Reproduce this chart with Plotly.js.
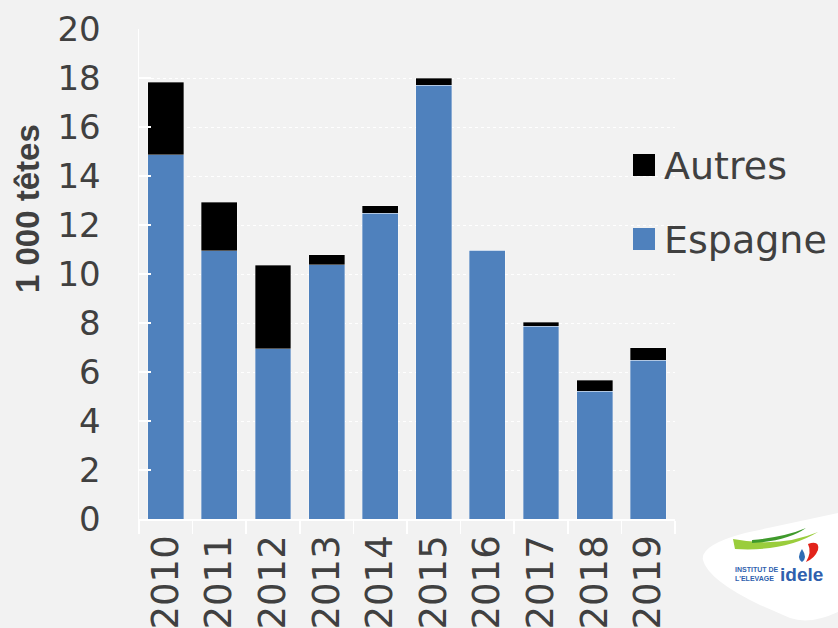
<!DOCTYPE html>
<html>
<head>
<meta charset="utf-8">
<script src="https://cdn.plot.ly/plotly-3.0.1.min.js"></script>
<style>
  html, body { margin: 0; padding: 0; background: #f2f2f2; }
  #chart { width: 838px; height: 628px; }
</style>
</head>
<body>
<div id="chart"></div>
<script>
// données (milliers de têtes)
const years = ['2010', '2011', '2012', '2013', '2014', '2015', '2016', '2017', '2018', '2019'];
const espagne = [14.86, 10.95, 6.94, 10.38, 12.48, 17.71, 10.97, 7.86, 5.21, 6.49];
const autres = [2.96, 1.98, 3.41, 0.40, 0.30, 0.28, 0.00, 0.17, 0.45, 0.49];
const seriesNames = ['Autres', 'Espagne'];
const seriesColors = ['#000000', '#4f81bd'];

// marges du graphe (px)
const W = 838, H = 628;
const M = { l: 139, r: 163, t: 29, b: 109 };
const PW = W - M.l - M.r, PH = H - M.t - M.b;
// pixel -> coordonnées papier
const px = x => (x - M.l) / PW;
const py = y => (H - M.b - y) / PH;

const TXT = '#404040';
const FONT = 'DejaVu Sans, sans-serif';
const barLine = { width: 0.75, color: 'rgba(255,255,255,0.45)' };

const traces = [
    { x: years, y: espagne, name: 'Espagne', type: 'bar', marker: { color: seriesColors[1], line: barLine } },
    { x: years, y: autres, name: 'Autres', type: 'bar', marker: { color: seriesColors[0], line: barLine } }
];

// --- légende faite à la main (carrés plus grands que ceux de Plotly) ---
const shapes = [];
const annotations = [];
seriesNames.forEach((name, i) => {
    const cy = 165 + i * 74;
    shapes.push({
        type: 'rect', xref: 'paper', yref: 'paper',
        x0: px(633), x1: px(655), y0: py(cy + 11), y1: py(cy - 11),
        fillcolor: seriesColors[i], line: { width: 0 }
    });
    annotations.push({
        xref: 'paper', yref: 'paper', x: px(662), y: py(cy + 1),
        xanchor: 'left', yanchor: 'middle', showarrow: false,
        text: name, font: { family: FONT, size: 38, color: TXT }
    });
});

// titre axe Y
annotations.push({
    xref: 'paper', yref: 'paper', x: px(28), y: py(209),
    xanchor: 'center', yanchor: 'middle', showarrow: false, textangle: -90,
    text: '<b>1 000 têtes</b>',
    font: { family: 'Liberation Sans, Arial, sans-serif', size: 33, color: TXT }
});

// --- logo idele (coin bas droit) ---
const p = (x, y) => px(x).toFixed(4) + ',' + py(y).toFixed(4);
shapes.push({
    type: 'path', xref: 'paper', yref: 'paper', layer: 'above',
    path: 'M' + p(838, 513) + ' L' + p(745, 533) + ' Q' + p(700, 545) + ' ' + p(703, 560) +
          ' Q' + p(708, 580) + ' ' + p(760, 605) + ' L' + p(790, 618) + ' Q' + p(810, 625) + ' ' + p(838, 612) + ' Z',
    fillcolor: '#ffffff', line: { width: 0 }
});
// bande verte claire
shapes.push({
    type: 'path', xref: 'paper', yref: 'paper', layer: 'above',
    path: 'M' + p(733, 539) + ' Q' + p(780, 548) + ' ' + p(818, 532) +
          ' Q' + p(785, 552) + ' ' + p(735, 549) + ' Z',
    fillcolor: '#9acd3c', line: { width: 0 }
});
// trait vert foncé
shapes.push({
    type: 'path', xref: 'paper', yref: 'paper', layer: 'above',
    path: 'M' + p(752, 540) + ' Q' + p(785, 537) + ' ' + p(806, 528) +
          ' Q' + p(788, 541) + ' ' + p(752, 543) + ' Z',
    fillcolor: '#3f9a2c', line: { width: 0 }
});
shapes.push({
    type: 'path', xref: 'paper', yref: 'paper', layer: 'above',
    path: 'M' + p(808, 544) + ' Q' + p(820, 540) + ' ' + p(818, 550) +
          ' Q' + p(815, 558) + ' ' + p(806, 562) + ' Q' + p(812, 552) + ' ' + p(808, 544) + ' Z',
    fillcolor: '#e2231a', line: { width: 0 }
});
shapes.push({
    type: 'path', xref: 'paper', yref: 'paper', layer: 'above',
    path: 'M' + p(802, 549) + ' Q' + p(808, 558) + ' ' + p(802, 562) +
          ' Q' + p(796, 558) + ' ' + p(802, 549) + ' Z',
    fillcolor: '#2f6db5', line: { width: 0 }
});
annotations.push({
    xref: 'paper', yref: 'paper', x: px(733), y: py(574), xanchor: 'left', yanchor: 'middle',
    showarrow: false, align: 'left',
    text: '<b>INSTITUT DE<br>L\'ELEVAGE</b>',
    font: { family: 'Liberation Sans, Arial, sans-serif', size: 7, color: '#2f5fae' }
});
annotations.push({
    xref: 'paper', yref: 'paper', x: px(778), y: py(574), xanchor: 'left', yanchor: 'middle',
    showarrow: false, text: '<b>idele</b>',
    font: { family: 'Liberation Sans, Arial, sans-serif', size: 19, color: '#2f5fae' }
});

Plotly.newPlot('chart', traces, {
    width: W, height: H,
    margin: M,
    paper_bgcolor: '#f2f2f2',
    plot_bgcolor: '#f2f2f2',
    barmode: 'stack',
    bargap: 0.33,
    showlegend: false,
    font: { family: FONT, color: TXT },
    xaxis: {
        type: 'category',
        tickangle: -90,
        tickfont: { family: FONT, size: 37, color: TXT },
        showline: true, linecolor: '#ffffff', linewidth: 1.5,
        ticks: 'outside', tickson: 'boundaries', ticklen: 13, tickcolor: '#ffffff', tickwidth: 1.5,
        showgrid: false, zeroline: false
    },
    yaxis: {
        range: [0, 20], dtick: 2,
        tickfont: { family: FONT, size: 34, color: TXT },
        showline: true, linecolor: '#ffffff', linewidth: 1.5,
        ticks: 'inside', ticklen: 12, tickcolor: '#ffffff', tickwidth: 1.5,
        ticklabelstandoff: 30,
        showgrid: true, gridcolor: '#ffffff', gridwidth: 1, griddash: 'dot',
        zeroline: false
    },
    shapes: shapes,
    annotations: annotations
}, { displayModeBar: false, staticPlot: true });
</script>
</body>
</html>
